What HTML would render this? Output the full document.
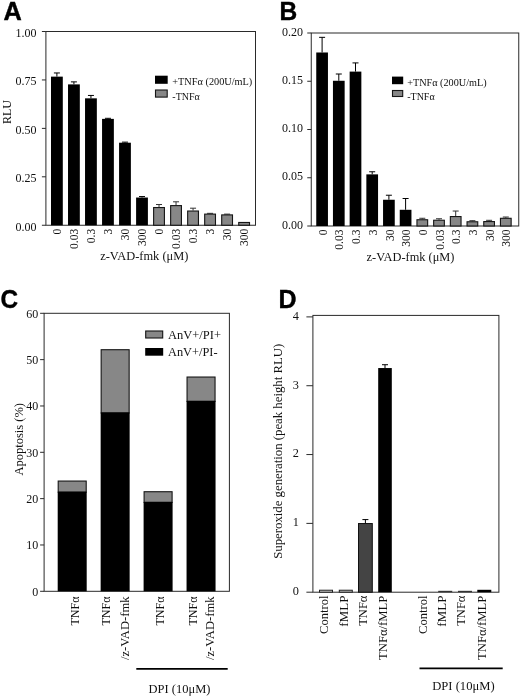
<!DOCTYPE html>
<html><head><meta charset="utf-8"><title>Figure</title>
<style>
html,body{margin:0;padding:0;background:#fff;}
body{width:520px;height:698px;overflow:hidden;}
svg{display:block;filter:blur(0.4px);}
text{font-family:"Liberation Serif",serif;fill:#111;}
.pl{font-family:"Liberation Sans",sans-serif;font-weight:bold;fill:#000;stroke:#000;stroke-width:0.4;}
.ax{stroke:#2a2a2a;stroke-width:1;fill:none;}
.eb{stroke:#000;stroke-width:1;fill:none;}
.eg{stroke:#333;stroke-width:1;fill:none;}
</style></head><body>
<svg width="520" height="698" viewBox="0 0 520 698">
<rect width="520" height="698" fill="#fff"/>
<rect class="ax" x="45.9" y="31.5" width="209.6" height="193.75"/>
<line class="ax" x1="41.9" y1="225.25" x2="45.9" y2="225.25"/>
<text x="36.4" y="230.55" font-size="12" text-anchor="end">0.00</text>
<line class="ax" x1="41.9" y1="176.81" x2="45.9" y2="176.81"/>
<text x="36.4" y="182.11" font-size="12" text-anchor="end">0.25</text>
<line class="ax" x1="41.9" y1="128.38" x2="45.9" y2="128.38"/>
<text x="36.4" y="133.68" font-size="12" text-anchor="end">0.50</text>
<line class="ax" x1="41.9" y1="79.94" x2="45.9" y2="79.94"/>
<text x="36.4" y="85.24" font-size="12" text-anchor="end">0.75</text>
<line class="ax" x1="41.9" y1="31.5" x2="45.9" y2="31.5"/>
<text x="36.4" y="36.8" font-size="12" text-anchor="end">1.00</text>
<path class="eb" d="M56.9 76.64 V72.96 M53.9 72.96 H59.9"/>
<rect x="51" y="76.64" width="11.8" height="148.61" fill="#000"/>
<text transform="translate(60.9,228.75) rotate(-90)" font-size="11.5" text-anchor="end">0</text>
<path class="eb" d="M73.92 84.39 V81.88 M70.92 81.88 H76.92"/>
<rect x="68.02" y="84.39" width="11.8" height="140.86" fill="#000"/>
<text transform="translate(77.92,228.75) rotate(-90)" font-size="11.5" text-anchor="end">0.03</text>
<path class="eb" d="M90.94 98.34 V95.44 M87.94 95.44 H93.94"/>
<rect x="85.04" y="98.34" width="11.8" height="126.91" fill="#000"/>
<text transform="translate(94.94,228.75) rotate(-90)" font-size="11.5" text-anchor="end">0.3</text>
<path class="eb" d="M107.96 118.88 V118.3 M104.96 118.3 H110.96"/>
<rect x="102.06" y="118.88" width="11.8" height="106.37" fill="#000"/>
<text transform="translate(111.96,228.75) rotate(-90)" font-size="11.5" text-anchor="end">3</text>
<path class="eb" d="M124.98 142.71 V142.13 M121.98 142.13 H127.98"/>
<rect x="119.08" y="142.71" width="11.8" height="82.54" fill="#000"/>
<text transform="translate(128.98,228.75) rotate(-90)" font-size="11.5" text-anchor="end">30</text>
<path class="eb" d="M142 197.54 V196.57 M139 196.57 H145"/>
<rect x="136.1" y="197.54" width="11.8" height="27.71" fill="#000"/>
<text transform="translate(146,228.75) rotate(-90)" font-size="11.5" text-anchor="end">300</text>
<path class="eg" d="M159.02 207.04 V204.52 M156.02 204.52 H162.02"/>
<rect x="153.62" y="207.54" width="10.8" height="17.71" fill="#878787" stroke="#151515" stroke-width="1.1"/>
<text transform="translate(163.02,228.75) rotate(-90)" font-size="11.5" text-anchor="end">0</text>
<path class="eg" d="M176.04 205.1 V201.81 M173.04 201.81 H179.04"/>
<rect x="170.64" y="205.6" width="10.8" height="19.65" fill="#878787" stroke="#151515" stroke-width="1.1"/>
<text transform="translate(180.04,228.75) rotate(-90)" font-size="11.5" text-anchor="end">0.03</text>
<path class="eg" d="M193.06 210.53 V208.2 M190.06 208.2 H196.06"/>
<rect x="187.66" y="211.03" width="10.8" height="14.22" fill="#878787" stroke="#151515" stroke-width="1.1"/>
<text transform="translate(197.06,228.75) rotate(-90)" font-size="11.5" text-anchor="end">0.3</text>
<path class="eg" d="M210.08 213.62 V213.33 M207.08 213.33 H213.08"/>
<rect x="204.68" y="214.12" width="10.8" height="11.12" fill="#878787" stroke="#151515" stroke-width="1.1"/>
<text transform="translate(214.08,228.75) rotate(-90)" font-size="11.5" text-anchor="end">3</text>
<path class="eg" d="M227.1 214.4 V214.11 M224.1 214.11 H230.1"/>
<rect x="221.7" y="214.9" width="10.8" height="10.35" fill="#878787" stroke="#151515" stroke-width="1.1"/>
<text transform="translate(231.1,228.75) rotate(-90)" font-size="11.5" text-anchor="end">30</text>
<rect x="238.72" y="222.46" width="10.8" height="2.79" fill="#878787" stroke="#151515" stroke-width="1.1"/>
<text transform="translate(248.12,228.75) rotate(-90)" font-size="11.5" text-anchor="end">300</text>
<text x="100.2" y="259.5" font-size="12.3" text-anchor="start" textLength="88.2" lengthAdjust="spacingAndGlyphs">z-VAD-fmk (μM)</text>
<rect x="155" y="75.7" width="12.7" height="8.1" fill="#000"/>
<rect x="155.5" y="90" width="11.7" height="7.1" fill="#878787" stroke="#151515" stroke-width="1.1"/>
<text x="172.3" y="85" font-size="10" text-anchor="start" textLength="80" lengthAdjust="spacingAndGlyphs">+TNFα (200U/mL)</text>
<text x="172.3" y="100.2" font-size="10" text-anchor="start">-TNFα</text>
<text transform="translate(11,112) rotate(-90)" font-size="12" text-anchor="middle">RLU</text>
<rect class="ax" x="311.25" y="33" width="207.5" height="193"/>
<line class="ax" x1="307.25" y1="226" x2="311.25" y2="226"/>
<text x="302.95" y="228.5" font-size="12" text-anchor="end">0.00</text>
<line class="ax" x1="307.25" y1="177.75" x2="311.25" y2="177.75"/>
<text x="302.95" y="180.25" font-size="12" text-anchor="end">0.05</text>
<line class="ax" x1="307.25" y1="129.5" x2="311.25" y2="129.5"/>
<text x="302.95" y="132" font-size="12" text-anchor="end">0.10</text>
<line class="ax" x1="307.25" y1="81.25" x2="311.25" y2="81.25"/>
<text x="302.95" y="83.75" font-size="12" text-anchor="end">0.15</text>
<line class="ax" x1="307.25" y1="33" x2="311.25" y2="33"/>
<text x="302.95" y="35.5" font-size="12" text-anchor="end">0.20</text>
<path class="eb" d="M322.1 52.49 V37.34 M319.1 37.34 H325.1"/>
<rect x="316.25" y="52.49" width="11.7" height="173.51" fill="#000"/>
<text transform="translate(326.7,229.6) rotate(-90)" font-size="11.5" text-anchor="end">0</text>
<path class="eb" d="M338.8 80.77 V74.01 M335.8 74.01 H341.8"/>
<rect x="332.95" y="80.77" width="11.7" height="145.23" fill="#000"/>
<text transform="translate(343.4,229.6) rotate(-90)" font-size="11.5" text-anchor="end">0.03</text>
<path class="eb" d="M355.5 71.6 V62.91 M352.5 62.91 H358.5"/>
<rect x="349.65" y="71.6" width="11.7" height="154.4" fill="#000"/>
<text transform="translate(360.1,229.6) rotate(-90)" font-size="11.5" text-anchor="end">0.3</text>
<path class="eb" d="M372.2 174.37 V171.77 M369.2 171.77 H375.2"/>
<rect x="366.35" y="174.37" width="11.7" height="51.63" fill="#000"/>
<text transform="translate(376.8,229.6) rotate(-90)" font-size="11.5" text-anchor="end">3</text>
<path class="eb" d="M388.9 199.75 V195.22 M385.9 195.22 H391.9"/>
<rect x="383.05" y="199.75" width="11.7" height="26.25" fill="#000"/>
<text transform="translate(393.5,229.6) rotate(-90)" font-size="11.5" text-anchor="end">30</text>
<path class="eb" d="M405.6 209.79 V198.5 M402.6 198.5 H408.6"/>
<rect x="399.75" y="209.79" width="11.7" height="16.21" fill="#000"/>
<text transform="translate(410.2,229.6) rotate(-90)" font-size="11.5" text-anchor="end">300</text>
<path class="eg" d="M422.3 219.25 V218.28 M419.3 218.28 H425.3"/>
<rect x="416.95" y="219.75" width="10.7" height="6.25" fill="#878787" stroke="#151515" stroke-width="1.1"/>
<text transform="translate(426.9,229.6) rotate(-90)" font-size="11.5" text-anchor="end">0</text>
<path class="eg" d="M439 219.73 V218.76 M436 218.76 H442"/>
<rect x="433.65" y="220.23" width="10.7" height="5.77" fill="#878787" stroke="#151515" stroke-width="1.1"/>
<text transform="translate(443.6,229.6) rotate(-90)" font-size="11.5" text-anchor="end">0.03</text>
<path class="eg" d="M455.7 216.06 V211.04 M452.7 211.04 H458.7"/>
<rect x="450.35" y="216.56" width="10.7" height="9.44" fill="#878787" stroke="#151515" stroke-width="1.1"/>
<text transform="translate(460.3,229.6) rotate(-90)" font-size="11.5" text-anchor="end">0.3</text>
<path class="eg" d="M472.4 221.27 V220.69 M469.4 220.69 H475.4"/>
<rect x="467.05" y="221.77" width="10.7" height="4.23" fill="#878787" stroke="#151515" stroke-width="1.1"/>
<text transform="translate(477,229.6) rotate(-90)" font-size="11.5" text-anchor="end">3</text>
<path class="eg" d="M489.1 221.08 V220.31 M486.1 220.31 H492.1"/>
<rect x="483.75" y="221.58" width="10.7" height="4.42" fill="#878787" stroke="#151515" stroke-width="1.1"/>
<text transform="translate(493.7,229.6) rotate(-90)" font-size="11.5" text-anchor="end">30</text>
<path class="eg" d="M505.8 217.8 V217.03 M502.8 217.03 H508.8"/>
<rect x="500.45" y="218.3" width="10.7" height="7.7" fill="#878787" stroke="#151515" stroke-width="1.1"/>
<text transform="translate(510.4,229.6) rotate(-90)" font-size="11.5" text-anchor="end">300</text>
<text x="366.6" y="261.2" font-size="12.3" text-anchor="start" textLength="87.8" lengthAdjust="spacingAndGlyphs">z-VAD-fmk (μM)</text>
<rect x="392" y="76.6" width="11.2" height="7.6" fill="#000"/>
<rect x="392.5" y="90.5" width="10.2" height="6" fill="#878787" stroke="#151515" stroke-width="1.1"/>
<text x="407.2" y="85.8" font-size="10" text-anchor="start" textLength="79.4" lengthAdjust="spacingAndGlyphs">+TNFα (200U/mL)</text>
<text x="407.2" y="100.4" font-size="10" text-anchor="start">-TNFα</text>
<text class="pl" transform="translate(3.4,20.4) scale(1.0,1)" font-size="25.3">A</text>
<text class="pl" transform="translate(279.6,20.4) scale(0.97,1)" font-size="25.3">B</text>
<text class="pl" transform="translate(0.5,307.6) scale(0.96,1)" font-size="25.3">C</text>
<text class="pl" transform="translate(278.4,307.6) scale(0.99,1)" font-size="25.3">D</text>
<rect class="ax" x="44.1" y="313.3" width="185.3" height="278"/>
<line class="ax" x1="40.1" y1="591.3" x2="44.1" y2="591.3"/>
<text x="38.3" y="595.5" font-size="12" text-anchor="end">0</text>
<line class="ax" x1="40.1" y1="544.97" x2="44.1" y2="544.97"/>
<text x="38.3" y="549.17" font-size="12" text-anchor="end">10</text>
<line class="ax" x1="40.1" y1="498.63" x2="44.1" y2="498.63"/>
<text x="38.3" y="502.83" font-size="12" text-anchor="end">20</text>
<line class="ax" x1="40.1" y1="452.3" x2="44.1" y2="452.3"/>
<text x="38.3" y="456.5" font-size="12" text-anchor="end">30</text>
<line class="ax" x1="40.1" y1="405.97" x2="44.1" y2="405.97"/>
<text x="38.3" y="410.17" font-size="12" text-anchor="end">40</text>
<line class="ax" x1="40.1" y1="359.63" x2="44.1" y2="359.63"/>
<text x="38.3" y="363.83" font-size="12" text-anchor="end">50</text>
<line class="ax" x1="40.1" y1="313.3" x2="44.1" y2="313.3"/>
<text x="38.3" y="317.5" font-size="12" text-anchor="end">60</text>
<rect x="58.2" y="481.06" width="28" height="11.12" fill="#878787" stroke="#151515" stroke-width="1.1"/>
<rect x="57.7" y="491.68" width="29" height="99.62" fill="#000"/>
<rect x="101.15" y="349.71" width="28" height="63.24" fill="#878787" stroke="#151515" stroke-width="1.1"/>
<rect x="100.65" y="412.45" width="29" height="178.85" fill="#000"/>
<rect x="144.1" y="491.72" width="28" height="10.66" fill="#878787" stroke="#151515" stroke-width="1.1"/>
<rect x="143.6" y="501.88" width="29" height="89.42" fill="#000"/>
<rect x="187.05" y="377.04" width="28" height="24.33" fill="#878787" stroke="#151515" stroke-width="1.1"/>
<rect x="186.55" y="400.87" width="29" height="190.43" fill="#000"/>
<text transform="translate(22.8,439.3) rotate(-90)" font-size="12.6" text-anchor="middle" textLength="72.6" lengthAdjust="spacingAndGlyphs">Apoptosis (%)</text>
<rect x="145.7" y="331" width="17" height="7" fill="#878787" stroke="#151515" stroke-width="1.1"/>
<rect x="145.2" y="348" width="18" height="7.7" fill="#000"/>
<text x="168" y="338.5" font-size="12.3" text-anchor="start" textLength="53" lengthAdjust="spacingAndGlyphs">AnV+/PI+</text>
<text x="168" y="356" font-size="12.3" text-anchor="start" textLength="49.5" lengthAdjust="spacingAndGlyphs">AnV+/PI-</text>
<text transform="translate(78.5,596.5) rotate(-90)" font-size="12" text-anchor="end" textLength="29" lengthAdjust="spacingAndGlyphs">TNFα</text>
<text transform="translate(110.4,596.5) rotate(-90)" font-size="12" text-anchor="end" textLength="29" lengthAdjust="spacingAndGlyphs">TNFα</text>
<text transform="translate(129,596.5) rotate(-90)" font-size="12" text-anchor="end" textLength="63.5" lengthAdjust="spacingAndGlyphs">/z-VAD-fmk</text>
<text transform="translate(164.2,596.5) rotate(-90)" font-size="12" text-anchor="end" textLength="29" lengthAdjust="spacingAndGlyphs">TNFα</text>
<text transform="translate(196.5,596.5) rotate(-90)" font-size="12" text-anchor="end" textLength="29" lengthAdjust="spacingAndGlyphs">TNFα</text>
<text transform="translate(213.8,596.5) rotate(-90)" font-size="12" text-anchor="end" textLength="63.5" lengthAdjust="spacingAndGlyphs">/z-VAD-fmk</text>
<line x1="136.3" y1="668.9" x2="227.7" y2="668.9" stroke="#000" stroke-width="1.7"/>
<text x="148.6" y="693" font-size="12.3" text-anchor="start" textLength="61.8" lengthAdjust="spacingAndGlyphs">DPI (10μM)</text>
<rect class="ax" x="312.9" y="315.4" width="186" height="276.8"/>
<line class="ax" x1="306.4" y1="592.2" x2="312.9" y2="592.2"/>
<text x="299" y="595" font-size="12.3" text-anchor="end">0</text>
<line class="ax" x1="306.4" y1="523.38" x2="312.9" y2="523.38"/>
<text x="299" y="526.17" font-size="12.3" text-anchor="end">1</text>
<line class="ax" x1="306.4" y1="454.55" x2="312.9" y2="454.55"/>
<text x="299" y="457.35" font-size="12.3" text-anchor="end">2</text>
<line class="ax" x1="306.4" y1="385.73" x2="312.9" y2="385.73"/>
<text x="299" y="388.53" font-size="12.3" text-anchor="end">3</text>
<line class="ax" x1="306.4" y1="316.9" x2="312.9" y2="316.9"/>
<text x="299" y="319.7" font-size="12.3" text-anchor="end">4</text>
<rect x="319.5" y="590.22" width="13" height="1.98" fill="#ccc" stroke="#222" stroke-width="1"/>
<rect x="339.3" y="590.22" width="13" height="1.98" fill="#bbb" stroke="#222" stroke-width="1"/>
<path class="eb" d="M365.4 523.03 V519.59 M362.4 519.59 H368.4"/>
<rect x="358.5" y="523.53" width="13.8" height="68.67" fill="#444" stroke="#111" stroke-width="1"/>
<path class="eb" d="M385 368.04 V364.73 M382 364.73 H388"/>
<rect x="378.2" y="368.04" width="13.6" height="224.16" fill="#000"/>
<rect x="438.2" y="590.82" width="14" height="1.38" fill="#333"/>
<rect x="458" y="590.82" width="14" height="1.38" fill="#333"/>
<rect x="477.3" y="589.79" width="14" height="2.41" fill="#000"/>
<text transform="translate(327.9,595.6) rotate(-90)" font-size="12" text-anchor="end" textLength="38.3" lengthAdjust="spacingAndGlyphs">Control</text>
<text transform="translate(426.5,595.6) rotate(-90)" font-size="12" text-anchor="end" textLength="38.3" lengthAdjust="spacingAndGlyphs">Control</text>
<text transform="translate(347.9,595.6) rotate(-90)" font-size="12" text-anchor="end" textLength="31.2" lengthAdjust="spacingAndGlyphs">fMLP</text>
<text transform="translate(445.9,595.6) rotate(-90)" font-size="12" text-anchor="end" textLength="31.2" lengthAdjust="spacingAndGlyphs">fMLP</text>
<text transform="translate(367,595.6) rotate(-90)" font-size="12" text-anchor="end" textLength="30.2" lengthAdjust="spacingAndGlyphs">TNFα</text>
<text transform="translate(465.1,595.6) rotate(-90)" font-size="12" text-anchor="end" textLength="30.2" lengthAdjust="spacingAndGlyphs">TNFα</text>
<text transform="translate(387.35,595.6) rotate(-90)" font-size="12" text-anchor="end" textLength="64.4" lengthAdjust="spacingAndGlyphs">TNFα/fMLP</text>
<text transform="translate(485.8,595.6) rotate(-90)" font-size="12" text-anchor="end" textLength="64.4" lengthAdjust="spacingAndGlyphs">TNFα/fMLP</text>
<text transform="translate(282,451.25) rotate(-90)" font-size="12.6" text-anchor="middle" textLength="215.1" lengthAdjust="spacingAndGlyphs">Superoxide generation (peak height RLU)</text>
<line x1="419.5" y1="668.3" x2="502.7" y2="668.3" stroke="#000" stroke-width="1.7"/>
<text x="432.2" y="689.5" font-size="12.3" text-anchor="start" textLength="62.4" lengthAdjust="spacingAndGlyphs">DPI (10μM)</text>
</svg>
</body></html>
